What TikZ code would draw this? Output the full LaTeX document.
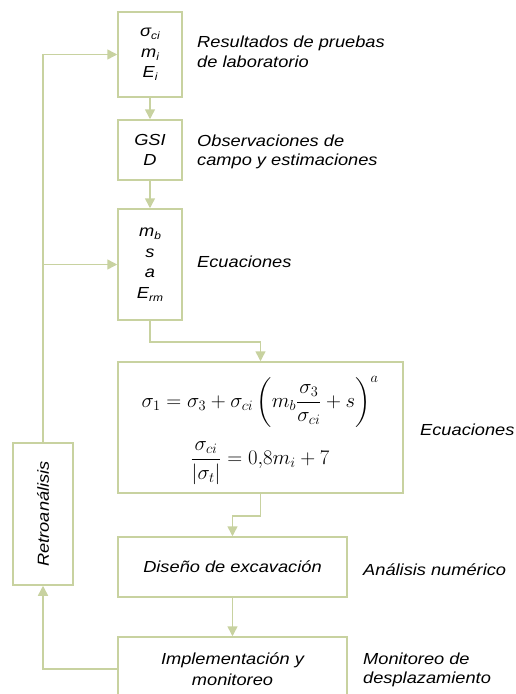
\documentclass[tikz,border=0pt]{standalone}
\usepackage{amsmath}
\usepackage{fontspec}
\setmainfont{Liberation Sans}[FakeStretch=1.14]
\usetikzlibrary{arrows.meta}
\definecolor{lc}{RGB}{200,210,160}
\newcommand{\sbx}[1]{\raisebox{-0.35ex}{\fontsize{10.5}{10.5}\selectfont #1}}
\begin{document}
\begin{tikzpicture}[x=1pt,y=-1pt,
  box/.style={draw=lc,line width=1.5pt,inner sep=0pt,align=center,font=\fontsize{16}{20.5}\selectfont\itshape},
  eq/.style={inner sep=0pt,font=\fontsize{19.5}{24}\selectfont},
  lbl/.style={anchor=west,inner sep=0pt,align=left,font=\fontsize{16}{19.5}\selectfont\itshape},
  conn/.style={draw=lc,line width=1.5pt,-{Triangle[length=10pt,width=10pt]}}]
\clip (0,0) rectangle (516,694);
\node[box,minimum width=64,minimum height=85] (b1) at (150,54.5) {σ\sbx{ci}\\m\sbx{i}\\E\sbx{i}};
\node[box,minimum width=64,minimum height=60] (b2) at (150,150) {GSI\\D};
\node[box,minimum width=64,minimum height=111] (b3) at (150,264.5) {m\sbx{b}\\s\\a\\E\sbx{rm}};
\node[box,minimum width=285,minimum height=131] (b4) at (260.5,427.5) {};
\node[eq] (e1) at (260,402) {$\displaystyle \sigma_1=\sigma_3+\sigma_{ci}\,\biggl(m_b\frac{\sigma_3}{\sigma_{ci}}+s\biggr)^{a}$};
\node[eq] (e2) at (260,463) {$\displaystyle \frac{\sigma_{ci}}{|\sigma_t|}=0{,}8m_i+7$};
\node[box,minimum width=229,minimum height=60] (b5) at (232.5,567) {Diseño de excavación};
\node[box,minimum width=229,minimum height=64] (b6) at (232.5,669) {Implementación y\\monitoreo};
\node[box,minimum width=60,minimum height=142] (r) at (43,514) {\rotatebox{90}{Retroanálisis}};
\node[lbl] (l1) at (197,52) {Resultados de pruebas\\de laboratorio};
\node[lbl] (l2) at (197,152) {Observaciones de\\campo y estimaciones};
\node[lbl] (l3) at (197,262) {Ecuaciones};
\node[lbl] (l4) at (420,430) {Ecuaciones};
\node[lbl] (l5) at (363,570) {Análisis numérico};
\node[lbl] (l6) at (363,670) {Monitoreo de\\desplazamiento};
\coordinate (j) at (43,264.5);
\draw[conn] (b1.south) -- (b2.north);
\draw[conn] (b2.south) -- (b3.north);
\draw[conn] (b3.south) -- ++(0,21) -| (b4.north);
\draw[conn] (b4.south) -- ++(0,22) -| (b5.north);
\draw[conn] (b5.south) -- (b6.north);
\draw[conn] (b6.west) -| (r.south);
\draw[conn] (r.north) |- (b1.west);
\draw[conn] (j) -- (b3.west);
\end{tikzpicture}
\end{document}
